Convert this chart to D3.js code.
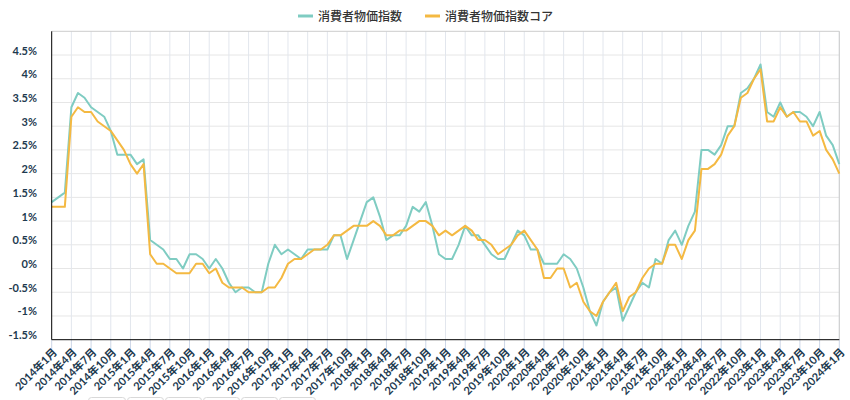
<!DOCTYPE html>
<html>
<head>
<meta charset="utf-8">
<script src="https://cdn.jsdelivr.net/npm/d3@7"></script>
<style>
  html, body { margin: 0; padding: 0; background: #fff; }
  svg { display: block; }
  text { font-family: Lato, "Noto Sans CJK JP", "Noto Sans", sans-serif; }
</style>
</head>
<body>
<svg id="chart" width="850" height="400"></svg>
<script>
// ---- data ----
const startYear = 2014;
const monthCount = 121; // 2014年1月 .. 2024年1月
const categories = d3.range(monthCount).map(i => `${startYear + Math.floor(i / 12)}年${(i % 12) + 1}月`);
const seriesNames = ["消費者物価指数", "消費者物価指数コア"];
const cpi = [
  1.4, 1.5, 1.6, 3.4, 3.7, 3.6, 3.4, 3.3, 3.2, 2.9, 2.4, 2.4,
  2.4, 2.2, 2.3, 0.6, 0.5, 0.4, 0.2, 0.2, 0.0, 0.3, 0.3, 0.2,
  0.0, 0.2, 0.0, -0.3, -0.5, -0.4, -0.4, -0.5, -0.5, 0.1, 0.5, 0.3,
  0.4, 0.3, 0.2, 0.4, 0.4, 0.4, 0.4, 0.7, 0.7, 0.2, 0.6, 1.0,
  1.4, 1.5, 1.1, 0.6, 0.7, 0.7, 0.9, 1.3, 1.2, 1.4, 0.9, 0.3,
  0.2, 0.2, 0.5, 0.9, 0.7, 0.7, 0.5, 0.3, 0.2, 0.2, 0.5, 0.8,
  0.7, 0.4, 0.4, 0.1, 0.1, 0.1, 0.3, 0.2, 0.0, -0.4, -0.9, -1.2,
  -0.7, -0.5, -0.4, -1.1, -0.8, -0.5, -0.3, -0.4, 0.2, 0.1, 0.6, 0.8,
  0.5, 0.9, 1.2, 2.5, 2.5, 2.4, 2.6, 3.0, 3.0, 3.7, 3.8, 4.0,
  4.3, 3.3, 3.2, 3.5, 3.2, 3.3, 3.3, 3.2, 3.0, 3.3, 2.8, 2.6,
  2.2
];
const cpiCore = [
  1.3, 1.3, 1.3, 3.2, 3.4, 3.3, 3.3, 3.1, 3.0, 2.9, 2.7, 2.5,
  2.2, 2.0, 2.2, 0.3, 0.1, 0.1, 0.0, -0.1, -0.1, -0.1, 0.1, 0.1,
  -0.1, 0.0, -0.3, -0.4, -0.4, -0.4, -0.5, -0.5, -0.5, -0.4, -0.4, -0.2,
  0.1, 0.2, 0.2, 0.3, 0.4, 0.4, 0.5, 0.7, 0.7, 0.8, 0.9, 0.9,
  0.9, 1.0, 0.9, 0.7, 0.7, 0.8, 0.8, 0.9, 1.0, 1.0, 0.9, 0.7,
  0.8, 0.7, 0.8, 0.9, 0.8, 0.6, 0.6, 0.5, 0.3, 0.4, 0.5, 0.7,
  0.8, 0.6, 0.4, -0.2, -0.2, 0.0, 0.0, -0.4, -0.3, -0.7, -0.9, -1.0,
  -0.7, -0.5, -0.3, -0.9, -0.6, -0.5, -0.2, 0.0, 0.1, 0.1, 0.5, 0.5,
  0.2, 0.6, 0.8, 2.1, 2.1, 2.2, 2.4, 2.8, 3.0, 3.6, 3.7, 4.0,
  4.2, 3.1, 3.1, 3.4, 3.2, 3.3, 3.1, 3.1, 2.8, 2.9, 2.5, 2.3,
  2.0
];
const yTickValues = [4.5, 4, 3.5, 3, 2.5, 2, 1.5, 1, 0.5, 0, -0.5, -1, -1.5];
const colors = ["#7fccc2", "#f4b942"];

// ---- layout ----
const svg = d3.select("#chart");
const L = 51.7, R = 839.3, T = 31.3, B = 339.7;
const x = d3.scaleLinear().domain([0, monthCount - 1]).range([L, R]);
const y = d3.scaleLinear().domain([-1.5, 5]).range([B, T]);
const tickIdx = d3.range(0, monthCount, 3);

// horizontal grid
svg.append("g").selectAll("line").data(yTickValues.filter(v => v > -1.5))
  .join("line")
  .attr("x1", L).attr("x2", R)
  .attr("y1", d => y(d)).attr("y2", d => y(d))
  .attr("stroke", "#e6e6e6").attr("stroke-width", 1);

// vertical grid
svg.append("g").selectAll("line").data(tickIdx.filter(i => i > 0))
  .join("line")
  .attr("x1", d => x(d)).attr("x2", d => x(d))
  .attr("y1", T).attr("y2", B)
  .attr("stroke", "#e2e6ed").attr("stroke-width", 1);
// tick marks below axis
svg.append("g").selectAll("line").data(tickIdx)
  .join("line")
  .attr("x1", d => x(d)).attr("x2", d => x(d))
  .attr("y1", B).attr("y2", B + 10)
  .attr("stroke", "#cdd6e6").attr("stroke-width", 1);

// top & right border
svg.append("line").attr("x1", L).attr("x2", R).attr("y1", T).attr("y2", T)
  .attr("stroke", "#cccccc");
svg.append("line").attr("x1", R).attr("x2", R).attr("y1", T).attr("y2", B)
  .attr("stroke", "#cccccc");

// lines
const series = [cpi, cpiCore];
const lineGen = d3.line().x((d, i) => x(i)).y(d => y(d));
series.forEach((s, k) => {
  svg.append("path").datum(s)
    .attr("d", lineGen)
    .attr("fill", "none")
    .attr("stroke", colors[k])
    .attr("stroke-width", 2)
    .attr("stroke-linejoin", "round");
});

// axes lines
svg.append("line").attr("x1", L).attr("x2", L).attr("y1", T).attr("y2", B)
  .attr("stroke", "#000").attr("stroke-width", 1);
svg.append("line").attr("x1", L).attr("x2", R).attr("y1", B).attr("y2", B)
  .attr("stroke", "#000").attr("stroke-width", 1);

// y labels
const fmt = v => `${+v.toFixed(1)}%`;
svg.append("g").selectAll("text").data(yTickValues)
  .join("text")
  .attr("x", 37)
  .attr("y", d => y(d) - 5)
  .attr("text-anchor", "end")
  .attr("dominant-baseline", "central")
  .attr("font-size", 11)
  .attr("font-weight", "bold")
  .attr("fill", "#1d3a4f")
  .text(fmt);

// x labels
svg.append("g").selectAll("text").data(tickIdx)
  .join("text")
  .attr("transform", d => `translate(${x(d) + 3},${B + 10}) rotate(-45)`)
  .attr("text-anchor", "end")
  .attr("dominant-baseline", "central")
  .attr("font-size", 11)
  .attr("font-weight", "bold")
  .attr("fill", "#1d3a4f")
  .text(d => categories[d]);

// legend
const legend = [
  { name: seriesNames[0], color: colors[0], sx: 298, tx: 318 },
  { name: seriesNames[1], color: colors[1], sx: 425, tx: 445 }
];
legend.forEach(l => {
  svg.append("line").attr("x1", l.sx).attr("x2", l.sx + 15)
    .attr("y1", 16).attr("y2", 16)
    .attr("stroke", l.color).attr("stroke-width", 3);
  svg.append("text").attr("x", l.tx).attr("y", 16)
    .attr("dominant-baseline", "central")
    .attr("font-size", 12)
    .attr("font-weight", 500)
    .attr("fill", "#333")
    .text(l.name);
});

// clipped boxes at the very bottom
const boxes = [[88, 126], [127, 164], [165, 202], [203, 240], [241, 278], [279, 316]];
svg.append("g").selectAll("rect").data(boxes)
  .join("rect")
  .attr("x", d => d[0] + 0.5).attr("y", 397.5)
  .attr("width", d => d[1] - d[0] - 1).attr("height", 12)
  .attr("rx", 3)
  .attr("fill", "#fff").attr("stroke", "#d9d9d9");
</script>
</body>
</html>
